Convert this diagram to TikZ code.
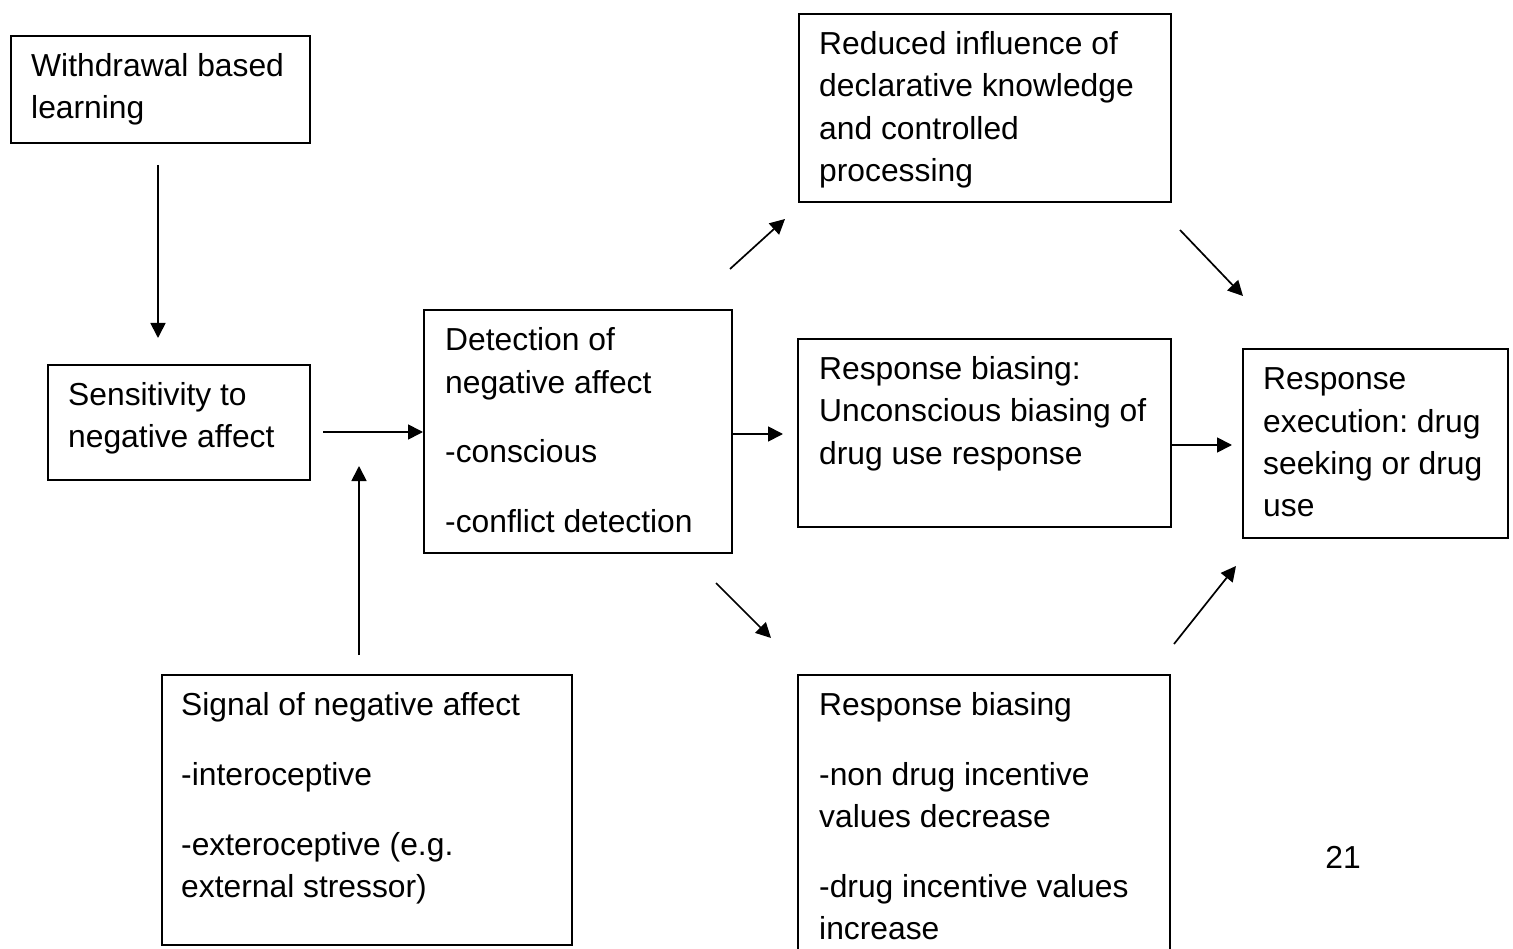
\documentclass[tikz,border=0pt]{standalone}
\usepackage{fontspec}
\setmainfont{Liberation Sans}
\usetikzlibrary{arrows.meta}
\newcommand\fstrut{\rule{0pt}{41.5pt}}
\frenchspacing
\begin{document}
\begin{tikzpicture}[x=1pt,y=-1pt,
  box/.style={draw=black,line width=1.8pt,rectangle,inner sep=0pt,anchor=north west},
  txt/.style={anchor=north west,inner sep=0pt,align=left,font=\fontsize{31.8pt}{42.3pt}\selectfont},
  arr/.style={line width=1.7pt,-{Triangle[length=15pt,width=15pt]}}]
\useasboundingbox (0,0) rectangle (1513,949);
\clip (0,0) rectangle (1513,949);
% boxes
\node[box,minimum width=299pt,minimum height=107pt] (A) at (10,35) {};
\node[txt] (At) at ([xshift=21pt]A.north west) {\fstrut Withdrawal based\\learning};
\node[box,minimum width=262pt,minimum height=115pt] (B) at (47,364) {};
\node[txt] (Bt) at ([xshift=21pt]B.north west) {\fstrut Sensitivity to\\negative affect};
\node[box,minimum width=308pt,minimum height=243pt] (C) at (423,309) {};
\node[txt] (Ct) at ([xshift=22pt]C.north west) {\fstrut Detection of\\negative affect\\[27.5pt]-conscious\\[27.5pt]-conflict detection};
\node[box,minimum width=372pt,minimum height=188pt] (E) at (798,13) {};
\node[txt] (Et) at ([xshift=21pt]E.north west) {\fstrut Reduced influence of\\declarative knowledge\\and controlled\\processing};
\node[box,minimum width=373pt,minimum height=188pt] (D) at (797,338) {};
\node[txt] (Dt) at ([xshift=22pt]D.north west) {\fstrut Response biasing:\\Unconscious biasing of\\drug use response};
\node[box,minimum width=265pt,minimum height=189pt] (F) at (1242,348) {};
\node[txt] (Ft) at ([xshift=21pt]F.north west) {\fstrut Response\\execution: drug\\seeking or drug\\use};
\node[box,minimum width=372pt,minimum height=300pt] (G) at (797,674) {};
\node[txt] (Gt) at ([xshift=22pt]G.north west) {\fstrut Response biasing\\[27.5pt]-non drug incentive\\values decrease\\[27.5pt]-drug incentive values\\increase};
\node[box,minimum width=410pt,minimum height=270pt] (H) at (161,674) {};
\node[txt] (Ht) at ([xshift=20pt]H.north west) {\fstrut Signal of negative affect\\[27.5pt]-interoceptive\\[27.5pt]-exteroceptive (e.g.\\external stressor)};
\node[font=\fontsize{31.8pt}{42.3pt}\selectfont,inner sep=0pt] (pg) at (1343,857) {21};
% free ends
\coordinate (a1) at (158,165);
\coordinate (a2) at (158,338);
\coordinate (b1) at (323,432);
\coordinate (h1) at (359,655);
\coordinate (h2) at (359,466);
\coordinate (c2) at (783,434);
\coordinate (d2) at (1232,445);
\coordinate (ce1) at (730,269);
\coordinate (ce2) at (785,219);
\coordinate (ef1) at (1180,230);
\coordinate (ef2) at (1243,296);
\coordinate (cg1) at (716,583);
\coordinate (cg2) at (771,638);
\coordinate (gf1) at (1174,644);
\coordinate (gf2) at (1236,566);
% connectors
\draw[arr] (a1) -- (a2);
\draw[arr] (b1) -- (C.west |- b1);
\draw[arr] (h1) -- (h2);
\draw[arr] (C.east |- c2) -- (c2);
\draw[arr] (D.east |- d2) -- (d2);
\draw[arr] (ce1) -- (ce2);
\draw[arr] (ef1) -- (ef2);
\draw[arr] (cg1) -- (cg2);
\draw[arr] (gf1) -- (gf2);
\end{tikzpicture}
\end{document}
